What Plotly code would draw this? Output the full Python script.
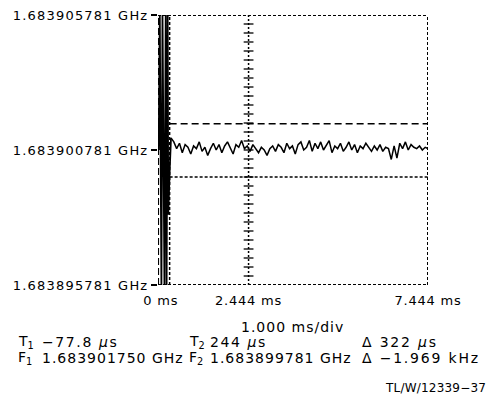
import numpy as np
import plotly.graph_objects as go

# frequency axis (GHz) and time axis (ms)
f_center = 1.683900781
f_top = 1.683905781
f_bottom = 1.683895781
x_ticks = [0, 2.444, 7.444]
x_tick_text = ["0 ms", "2.444 ms", "7.444 ms"]

# cursors
T1_us, T2_us, dT_us = -77.8, 244, 322
F1_GHz, F2_GHz, dF_kHz = 1.683901750, 1.683899781, -1.969

# transient just after the switch (ms, kHz offset from centre)
trans_t = [-0.06, -0.03, 0.015, 0.045, 0.10, 0.135, 0.16, 0.19, 0.205, 0.215, 0.225, 0.25, 0.282]
trans_f = [0.0, 5.0, -5.0, 5.0, -5.0, 5.0, -5.0, 5.0, -2.4, -1.8, -2.3, -0.6, 0.45]

# settled signal, kHz offset from centre
settled_f = [0.45, 0.30, 0.05, 0.25, -0.10, 0.20, 0.10, -0.15, 0.15, 0.05, 0.30, -0.05,
             0.10, -0.20, 0.05, 0.25, 0.00, 0.20, -0.10, 0.15, 0.30, 0.05, -0.15, 0.20,
             0.10, 0.35, 0.05, 0.15, -0.05, 0.20, 0.05, -0.10, 0.10, 0.00, -0.20, 0.05,
             0.15, -0.05, 0.20, 0.10, -0.10, 0.25, 0.05, 0.15, -0.15, 0.20, 0.30, 0.00,
             0.10, 0.35, -0.05, 0.25, 0.05, 0.30, 0.00, 0.20, 0.35, -0.10, 0.15, 0.05,
             0.25, -0.05, 0.10, 0.30, 0.00, 0.20, -0.10, 0.15, 0.05, 0.25, 0.10, -0.05,
             0.15, 0.00, 0.20, -0.05, 0.10, 0.05, -0.35, 0.15, -0.30, 0.25, 0.05, 0.30,
             0.00, 0.20, 0.10, 0.05, 0.15, 0.00, 0.10, 0.05]
settled_t = np.linspace(0.282, 7.444, len(settled_f))

FONT = "DejaVu Sans"
X0, X1 = -0.08, 7.444
Y0, Y1 = (f_bottom - f_center) * 1e6, (f_top - f_center) * 1e6
f1_k = (F1_GHz - f_center) * 1e6
f2_k = (F2_GHz - f_center) * 1e6
t1_ms, t2_ms = T1_us / 1000, T2_us / 1000

fig = go.Figure()
fig.add_trace(go.Scatter(x=trans_t, y=trans_f, mode="lines",
                         line=dict(color="black", width=1.8), showlegend=False))
fig.add_trace(go.Scatter(x=settled_t, y=settled_f, mode="lines",
                         line=dict(color="black", width=1.5), showlegend=False))

# small crosses on the centre graticule line
grat_y = np.linspace(Y0, Y1, 31)[1:-1]
fig.add_trace(go.Scatter(x=[2.444] * len(grat_y), y=grat_y, mode="markers",
                         marker=dict(symbol="line-ew", size=7,
                                     line=dict(color="black", width=1.3)),
                         showlegend=False))

box = dict(color="black", width=2, dash="3px,2px")
fig.add_shape(type="line", x0=X0, x1=X1, y0=Y1, y1=Y1, line=box)
fig.add_shape(type="line", x0=X0, x1=X1, y0=Y0, y1=Y0, line=box)
fig.add_shape(type="line", x0=X1, x1=X1, y0=Y0, y1=Y1, line=box)
fig.add_shape(type="line", x0=2.444, x1=2.444, y0=Y0, y1=Y1,
              line=dict(color="black", width=1.5, dash="2px,2px"))
# cursors
fig.add_shape(type="line", x0=t1_ms, x1=t1_ms, y0=Y0, y1=Y1,
              line=dict(color="black", width=2, dash="7px,3px"))
fig.add_shape(type="line", x0=t2_ms, x1=t2_ms, y0=Y0, y1=Y1,
              line=dict(color="black", width=1.5, dash="3px,2px"))
fig.add_shape(type="line", x0=t2_ms, x1=X1, y0=f1_k, y1=f1_k,
              line=dict(color="black", width=1.5, dash="7px,4px"))
fig.add_shape(type="line", x0=t2_ms, x1=X1, y0=f2_k, y1=f2_k,
              line=dict(color="black", width=1.5, dash="3px,2px"))

# page body adds an 8px margin, so work in window pixels minus that
OFF = 8
W, H = 499 - OFF, 406 - OFF
L, T, PW, PH = 158 - OFF, 15 - OFF, 270, 270


def px(x):
    return (x - OFF - L) / PW


def py(y):
    return (T + PH - (y - OFF)) / PH


def sp(text, ls):
    return f'<span style="letter-spacing:{ls}px">{text}</span>'


def note(text, x, y, anchor="left", size=14, ls=1.0):
    fig.add_annotation(text=sp(text, ls), x=px(x), y=py(y), xref="paper", yref="paper",
                       xanchor=anchor, yanchor="middle", showarrow=False,
                       font=dict(family=FONT, size=size, color="black"))


note("1.000 ms/div", 292, 327, anchor="center", ls=1.0)
note("T<sub>1</sub>", 16, 342, ls=0)
note(f"\u2212{abs(T1_us)} <i>\u03bc</i>s", 40, 342, ls=1.6)
note("T<sub>2</sub>", 187, 342, ls=0)
note(f"{T2_us} <i>\u03bc</i>s", 208, 342, ls=1.6)
note(f"\u0394 {dT_us} <i>\u03bc</i>s", 360, 342, ls=1.8)
note("F<sub>1</sub>", 16, 358, ls=0)
note(f"{F1_GHz:.9f} GHz", 40, 358)
note("F<sub>2</sub>", 187, 358, ls=0)
note(f"{F2_GHz:.9f} GHz", 208, 358)
note(f"\u0394 \u2212{abs(dF_kHz):.3f} kHz", 360, 358, ls=1.8)
note("TL/W/12339\u221237", 488, 388, anchor="right", size=12, ls=0.2)

y_text = [sp(f"{v:.9f} GHz", 1.2) for v in (f_bottom, f_center, f_top)]

fig.update_layout(
    width=W, height=H,
    margin=dict(l=L, r=W - L - PW, t=T, b=H - T - PH, autoexpand=False),
    paper_bgcolor="white", plot_bgcolor="white",
    font=dict(family=FONT, size=13, color="black"),
    xaxis=dict(range=[X0, X1], tickvals=x_ticks,
               ticktext=[sp(t, 0.8) for t in x_tick_text],
               showgrid=False, zeroline=False, showline=False,
               ticks="outside", ticklen=3, tickcolor="rgba(0,0,0,0)",
               automargin=False, ticklabeloverflow="allow"),
    yaxis=dict(range=[Y0, Y1], tickvals=[Y0, 0, Y1], ticktext=y_text,
               showgrid=False, zeroline=False, showline=False, automargin=False,
               ticklabeloverflow="allow",
               ticks="outside", ticklen=6, tickwidth=1.5, tickcolor="black"),
)

fig.write_html("out.html")
